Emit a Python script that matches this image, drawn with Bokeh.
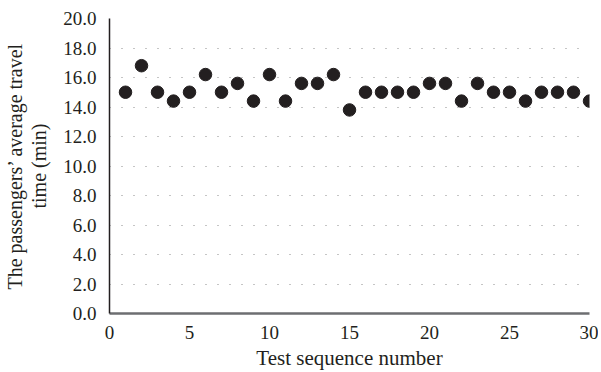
from bokeh.plotting import figure
from bokeh.models import (Range1d, FixedTicker, NumeralTickFormatter, ColumnDataSource,
                          LinearAxis)
from bokeh.embed import file_html
from bokeh.resources import INLINE

test_seq = list(range(1, 31))
avg_time = [15.0, 16.8, 15.0, 14.4, 15.0, 16.2, 15.0, 15.6, 14.4, 16.2,
            14.4, 15.6, 15.6, 16.2, 13.8, 15.0, 15.0, 15.0, 15.0, 15.6,
            15.6, 14.4, 15.6, 15.0, 15.0, 14.4, 15.0, 15.0, 15.0, 14.4]
x_ticks = [0, 5, 10, 15, 20, 25, 30]
y_ticks = [0, 2, 4, 6, 8, 10, 12, 14, 16, 18, 20]
x_title = "Test sequence number"
y_label_lines = ["The passengers\u2019 average travel", "time (min)"]

FONT = "Liberation Serif"
INK = "#231f20"

p = figure(width=598, height=372, output_backend="svg", toolbar_location=None,
           x_range=Range1d(0, 30), y_range=Range1d(0, 20),
           min_border_left=109, min_border_right=9, min_border_top=18, min_border_bottom=58)
p.outline_line_color = None

src = ColumnDataSource(dict(x=test_seq, y=avg_time))
p.scatter("x", "y", source=src, size=12.5, fill_color=INK, line_color=INK)

p.xgrid.grid_line_color = None
p.ygrid.ticker = FixedTicker(ticks=y_ticks[1:])
p.ygrid.grid_line_color = "#8a8a8a"
p.ygrid.grid_line_dash = "1 11"
p.ygrid.grid_line_width = 1

p.xaxis.ticker = FixedTicker(ticks=x_ticks)
p.yaxis.ticker = FixedTicker(ticks=y_ticks)
p.yaxis.formatter = NumeralTickFormatter(format="0.0")

# outer axis carrying only the first line of the y title
outer = LinearAxis(ticker=FixedTicker(ticks=[]), axis_line_color=None,
                   major_tick_line_color=None, minor_tick_line_color=None,
                   major_label_text_font_size="0px")
p.add_layout(outer, "left")

for ax in (p.xaxis[0], p.yaxis[0], outer):
    ax.major_tick_line_color = None
    ax.minor_tick_line_color = None
    ax.major_label_text_font = FONT
    ax.major_label_text_color = INK
    ax.axis_label_text_font = FONT
    ax.axis_label_text_font_style = "normal"
    ax.axis_label_text_color = INK

for ax in (p.xaxis[0], p.yaxis[0]):
    ax.major_label_text_font_size = "19px"

p.xaxis.axis_line_color = "#6d6e71"
p.xaxis.axis_line_width = 2.5
p.yaxis[0].axis_line_color = INK
p.yaxis[0].axis_line_width = 1.5
p.xaxis.major_label_standoff = 6
p.yaxis[0].major_label_standoff = 7

p.xaxis.axis_label = x_title
p.xaxis.axis_label_text_font_size = "21px"
p.xaxis.axis_label_standoff = 4

p.yaxis[0].axis_label = y_label_lines[1]
p.yaxis[0].axis_label_text_font_size = "20px"
p.yaxis[0].axis_label_standoff = 10
outer.axis_label = y_label_lines[0]
outer.axis_label_text_font_size = "20px"
outer.axis_label_standoff = 0

open("out.html", "w").write(file_html(p, INLINE))
